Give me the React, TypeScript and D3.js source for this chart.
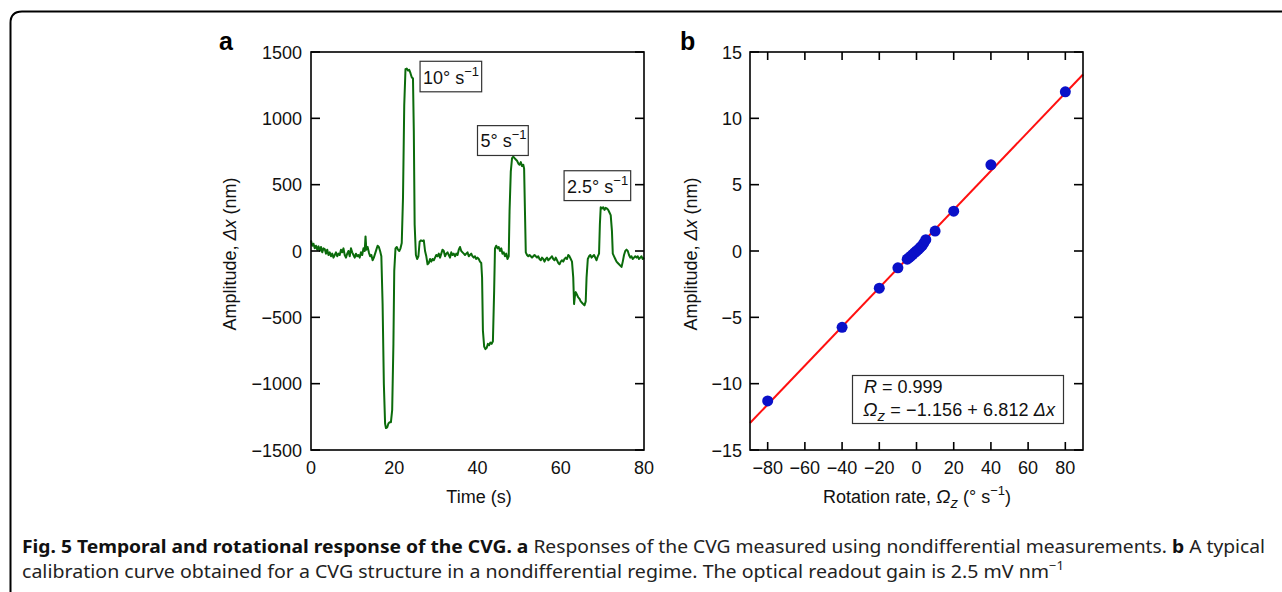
import React from 'react';
import * as d3 from 'd3';

// ---------- Panel a data: time trace ----------
const timeS = [
  0, 0.3, 0.6, 0.9, 1.2, 1.5, 1.8, 2.1, 2.4, 2.7, 3.0, 3.3, 3.6, 3.9, 4.2, 4.5, 4.8, 5.1, 5.4, 5.7,
  6.0, 6.3, 6.6, 6.9, 7.2, 7.5, 7.8, 8.1, 8.4, 8.7, 9.0, 9.3, 9.6, 9.9, 10.2, 10.5, 10.8, 11.1, 11.4, 11.7,
  12.0, 12.3, 12.6, 12.9, 13.1, 13.3, 13.6, 13.9, 14.2, 14.5, 14.8, 15.1, 15.4, 15.7, 16.0, 16.3, 16.6, 16.9,
  17.2, 17.5, 17.8, 18.0, 18.3, 18.6, 18.9, 19.2, 19.5, 19.8, 20.0, 20.3, 20.6, 20.9, 21.2, 21.5, 21.8,
  22.1, 22.4, 22.7, 23.0, 23.3, 23.6, 23.9, 24.2, 24.5, 24.7, 24.9, 25.2, 25.5, 25.8, 26.1, 26.4, 26.8,
  27.1, 27.4, 27.7, 28.0, 28.3, 28.6, 28.9, 29.2, 29.5, 29.8, 30.1, 30.4, 30.7, 31.0, 31.3, 31.6, 31.9,
  32.2, 32.5, 32.8, 33.1, 33.4, 33.7, 34.0, 34.3, 34.6, 34.9, 35.2, 35.5, 35.8, 36.1, 36.4, 36.7, 37.0,
  37.3, 37.6, 37.9, 38.2, 38.5, 38.8, 39.1, 39.4, 39.7, 40.0, 40.3, 40.6, 40.9, 41.1, 41.3, 41.6, 41.9,
  42.2, 42.5, 42.8, 43.1, 43.4, 43.7, 44.0, 44.2, 44.5, 44.8, 45.1, 45.4, 45.7, 46.0, 46.3, 46.6, 46.9,
  47.2, 47.5, 47.7, 48.0, 48.3, 48.6, 48.9, 49.2, 49.5, 49.8, 50.1, 50.4, 50.7, 51.0, 51.2, 51.4, 51.6,
  51.9, 52.2, 52.5, 52.8, 53.1, 53.4, 53.7, 54.0, 54.3, 54.6, 54.9, 55.2, 55.5, 55.8, 56.1, 56.4, 56.7,
  57.0, 57.3, 57.6, 57.9, 58.2, 58.5, 58.8, 59.1, 59.4, 59.7, 60.0, 60.3, 60.6, 60.9, 61.2, 61.5, 61.8,
  62.1, 62.4, 62.7, 63.0, 63.2, 63.4, 63.6, 63.9, 64.2, 64.5, 64.8, 65.1, 65.4, 65.7, 66.0, 66.2, 66.5,
  66.8, 67.1, 67.4, 67.7, 68.0, 68.3, 68.6, 68.9, 69.2, 69.4, 69.6, 69.9, 70.2, 70.5, 70.8, 71.1, 71.4,
  71.7, 72.0, 72.3, 72.5, 72.8, 73.1, 73.4, 73.7, 74.0, 74.3, 74.6, 74.9, 75.2, 75.5, 75.8, 76.1, 76.4,
  76.7, 77.0, 77.3, 77.6, 77.9, 78.2, 78.5, 78.8, 79.1, 79.4, 79.7, 80.0,
];
const amplitudeNm = [
  80, 40, 55, 20, 40, 10, 35, 0, 30, -10, 20, 15, -20, 10, -30, -10, -40, -20, -50, -30,
  -10, -40, -20, -30, 10, -10, 20, -30, -50, -20, 0, -40, 20, -10, -30, -50, -20, -40, -30, -50,
  -10, -30, 20, 0, 110, 10, 30, -10, -40, -30, -70, -50, -20, 10, 40, 30, 0, -40,
  -400, -1000, -1300, -1335, -1330, -1300, -1290, -1290, -1200, -700, -150, 20, 30, 10, 0, 20, 60,
  400, 1100, 1370, 1375, 1360, 1365, 1340, 1310, 1300, 900, 200, -30, -60, -40, 70, 80, 75,
  80, 0, -40, -100, -90, -60, -80, -60, -70, -50, -30, -40, -20, -50, -20, 10, 0,
  -40, -20, -10, -30, -50, -10, -30, -20, -40, -20, -30, 10, 30, 0, -10, -20, -30,
  -20, -10, -40, -30, -20, -40, -50, -40, -60, -50, -60, -80, -90, -200, -600, -720, -740,
  -730, -700, -710, -690, -700, -680, -300, 20, 40, 20, 30, 0, 20, -20, -10, -40, -20,
  -60, -40, 300, 600, 700, 710, 700, 690, 680, 660, 650, 670, 640, 650, 620, 300, -10,
  -30, -40, -30, -40, -50, -40, -30, -40, -50, -40, -60, -70, -50, -60, -80, -60, -50,
  -70, -60, -50, -40, -60, -70, -50, -70, -90, -100, -80, -70, -80, -60, -50, -60, -30,
  -40, -60, -80, -200, -400, -340, -310, -330, -350, -360, -380, -390, -400, -410, -380, -200, -60,
  -40, -30, -50, -40, -30, -50, -70, -40, -20, 200, 330, 320, 330, 310, 325, 320, 310,
  290, 270, 150, -20, -40, -60, -80, -90, -100, -110, -120, -80, -30, 0, 10, 0, -30,
  -50, -40, -60, -50, -40, -50, -40, -60, -50, -40, -60, -50,
];
const timeTicks = [0, 20, 40, 60, 80];
const ampTicksA = [-1500, -1000, -500, 0, 500, 1000, 1500];
const rateLabels = ['10', '5', '2.5'];

// ---------- Panel b data: calibration ----------
const rotationRate = [-80, -40, -20, -10, -5, -4, -3, -2, -1, 0, 1, 2, 3, 4, 5, 10, 20, 40, 80];
const amplitudeB = [-11.3, -5.75, -2.8, -1.27, -0.62, -0.5, -0.38, -0.25, -0.12, 0.0, 0.12, 0.27, 0.4, 0.62, 0.85, 1.5, 3.0, 6.5, 12.0];
const rateTicks = [-80, -60, -40, -20, 0, 20, 40, 60, 80];
const ampTicksB = [-15, -10, -5, 0, 5, 10, 15];
const fitIntercept = -1.156;
const fitSlope = 6.812;

const FONT = 'Liberation Sans, Arial, Helvetica, sans-serif';
const fmt = (v: number) => (v < 0 ? '\u2212' + Math.abs(v) : String(v));

export default function App() {
  const W = 1282;
  const H = 592;
  const top = 52;
  const bottom = 450;

  // Panel a scales
  const xA = d3.scaleLinear().domain([0, 80]).range([311, 644]);
  const yA = d3.scaleLinear().domain([-1500, 1500]).range([bottom, top]);
  const lineA = d3
    .line<number>()
    .x((_, i) => xA(timeS[i]))
    .y((d) => yA(d));
  const pathA = lineA(amplitudeNm) || '';

  // Panel b scales
  const xB = d3.scaleLinear().domain([-89.5, 89.5]).range([750, 1083]);
  const yB = d3.scaleLinear().domain([-15, 15]).range([bottom, top]);
  const fitX = xB.domain();
  const fitPts = fitX.map((w) => [xB(w), yB((w - fitIntercept) / fitSlope)] as [number, number]);
  const fitPath = d3.line()(fitPts) || '';

  const tickLen = 9;
  const fs = 18;

  // annotation boxes (data coords of panel a)
  const annos = [
    { label: rateLabels[0], t0: 26.2, t1: 41.0, a0: 1200, a1: 1430 },
    { label: rateLabels[1], t0: 40.0, t1: 52.2, a0: 720, a1: 945 },
    { label: rateLabels[2], t0: 60.8, t1: 76.8, a0: 380, a1: 605 },
  ];

  return (
    <svg
      width={W}
      height={H}
      style={{ position: 'absolute', left: 0, top: 0, background: '#fff' }}
      fontFamily={FONT}
    >
      <rect x={0} y={0} width={W} height={H} fill="#fff" />
      {/* outer frame */}
      <path d={`M ${W + 10} 11.5 L 22 11.5 Q 10.5 11.5 10.5 23 L 10.5 600`} fill="none" stroke="#000" strokeWidth={2} />

      {/* ---------- Panel a ---------- */}
      <text x={219} y={50} fontSize={25} fontWeight="bold" fill="#000">a</text>
      <path d={pathA} fill="none" stroke="#0b6b0b" strokeWidth={2} strokeLinejoin="round" />
      <rect x={311} y={top} width={333} height={bottom - top} fill="none" stroke="#000" strokeWidth={1.6} />
      {ampTicksA.map((v) => (
        <g key={'ya' + v}>
          <line x1={311} x2={311 + tickLen} y1={yA(v)} y2={yA(v)} stroke="#000" strokeWidth={1.6} />
          <line x1={644} x2={644 - tickLen} y1={yA(v)} y2={yA(v)} stroke="#000" strokeWidth={1.6} />
          <text x={302} y={yA(v) + 6.5} fontSize={fs} textAnchor="end" fill="#111">{fmt(v)}</text>
        </g>
      ))}
      {timeTicks.map((v) => (
        <text key={'xa' + v} x={xA(v)} y={474} fontSize={fs} textAnchor="middle" fill="#111">{fmt(v)}</text>
      ))}
      <text x={479} y={503} fontSize={fs} textAnchor="middle" fill="#111">Time (s)</text>
      <text transform={`translate(236, ${(top + bottom) / 2 + 3}) rotate(-90)`} fontSize={fs} textAnchor="middle" fill="#111">
        Amplitude, <tspan fontStyle="italic">Δx</tspan> (nm)
      </text>
      {annos.map((a) => {
        const x0 = xA(a.t0);
        const x1 = xA(a.t1);
        const y0 = yA(a.a1);
        const y1 = yA(a.a0);
        return (
          <g key={a.label}>
            <rect x={x0} y={y0} width={x1 - x0} height={y1 - y0} fill="#fff" stroke="#333" strokeWidth={1.2} />
            <text x={x0 + 3} y={y1 - 8} fontSize={fs} fill="#111">
              {a.label}° s<tspan fontSize={13} dy={-8}>−1</tspan>
            </text>
          </g>
        );
      })}

      {/* ---------- Panel b ---------- */}
      <text x={680} y={50} fontSize={25} fontWeight="bold" fill="#000">b</text>
      <path d={fitPath} fill="none" stroke="#ff1010" strokeWidth={2} />
      {rotationRate.map((w, i) => (
        <circle key={'p' + i} cx={xB(w)} cy={yB(amplitudeB[i])} r={5.5} fill="#0a10c8" />
      ))}
      <rect x={750} y={top} width={333} height={bottom - top} fill="none" stroke="#000" strokeWidth={1.6} />
      {ampTicksB.map((v) => (
        <g key={'yb' + v}>
          <line x1={750} x2={750 + tickLen} y1={yB(v)} y2={yB(v)} stroke="#000" strokeWidth={1.6} />
          <line x1={1083} x2={1083 - tickLen} y1={yB(v)} y2={yB(v)} stroke="#000" strokeWidth={1.6} />
          <text x={742} y={yB(v) + 6.5} fontSize={fs} textAnchor="end" fill="#111">{fmt(v)}</text>
        </g>
      ))}
      {rateTicks.map((v) => (
        <g key={'xb' + v}>
          <line x1={xB(v)} x2={xB(v)} y1={bottom} y2={bottom - 8} stroke="#000" strokeWidth={1.6} />
          <line x1={xB(v)} x2={xB(v)} y1={top} y2={top + 8} stroke="#000" strokeWidth={1.6} />
          <text x={xB(v)} y={474} fontSize={fs} textAnchor="middle" fill="#111">{fmt(v)}</text>
        </g>
      ))}
      <text x={917} y={503} fontSize={fs} textAnchor="middle" fill="#111">
        Rotation rate, <tspan fontStyle="italic" fontSize={19}>Ω</tspan><tspan fontStyle="italic" fontSize={15} dy={5}>z</tspan>
        <tspan dy={-5}> (° s</tspan><tspan fontSize={13} dy={-8}>−1</tspan><tspan dy={8}>)</tspan>
      </text>
      <text transform={`translate(697, ${(top + bottom) / 2 + 3}) rotate(-90)`} fontSize={fs} textAnchor="middle" fill="#111">
        Amplitude, <tspan fontStyle="italic">Δx</tspan> (nm)
      </text>
      <rect x={852.5} y={375.5} width={211} height={48} fill="#fff" stroke="#333" strokeWidth={1.2} />
      <text x={864} y={393} fontSize={fs} fill="#111">
        <tspan fontStyle="italic">R</tspan> = 0.999
      </text>
      <text x={863} y={416} fontSize={fs} fill="#111" textLength={192} lengthAdjust="spacing">
        <tspan fontStyle="italic" fontSize={19}>Ω</tspan><tspan fontStyle="italic" fontSize={15} dy={5}>z</tspan>
        <tspan dy={-5}> = −1.156 + 6.812 </tspan><tspan fontStyle="italic">Δx</tspan>
      </text>

      {/* ---------- Caption ---------- */}
      <text x={22} y={553} fontSize={18} fontFamily="Noto Sans, Open Sans, sans-serif" fill="#222" textLength={1243} lengthAdjust="spacingAndGlyphs">
        <tspan fontWeight="bold" fill="#111">Fig. 5 Temporal and rotational response of the CVG. a</tspan>
        <tspan> Responses of the CVG measured using nondifferential measurements. </tspan>
        <tspan fontWeight="bold" fill="#111">b</tspan>
        <tspan> A typical</tspan>
      </text>
      <text x={22} y={578} fontSize={18} fontFamily="Noto Sans, Open Sans, sans-serif" fill="#222" textLength={1042} lengthAdjust="spacingAndGlyphs">
        calibration curve obtained for a CVG structure in a nondifferential regime. The optical readout gain is 2.5 mV nm
        <tspan fontSize={12} dy={-8}>−1</tspan>
      </text>
    </svg>
  );
}
